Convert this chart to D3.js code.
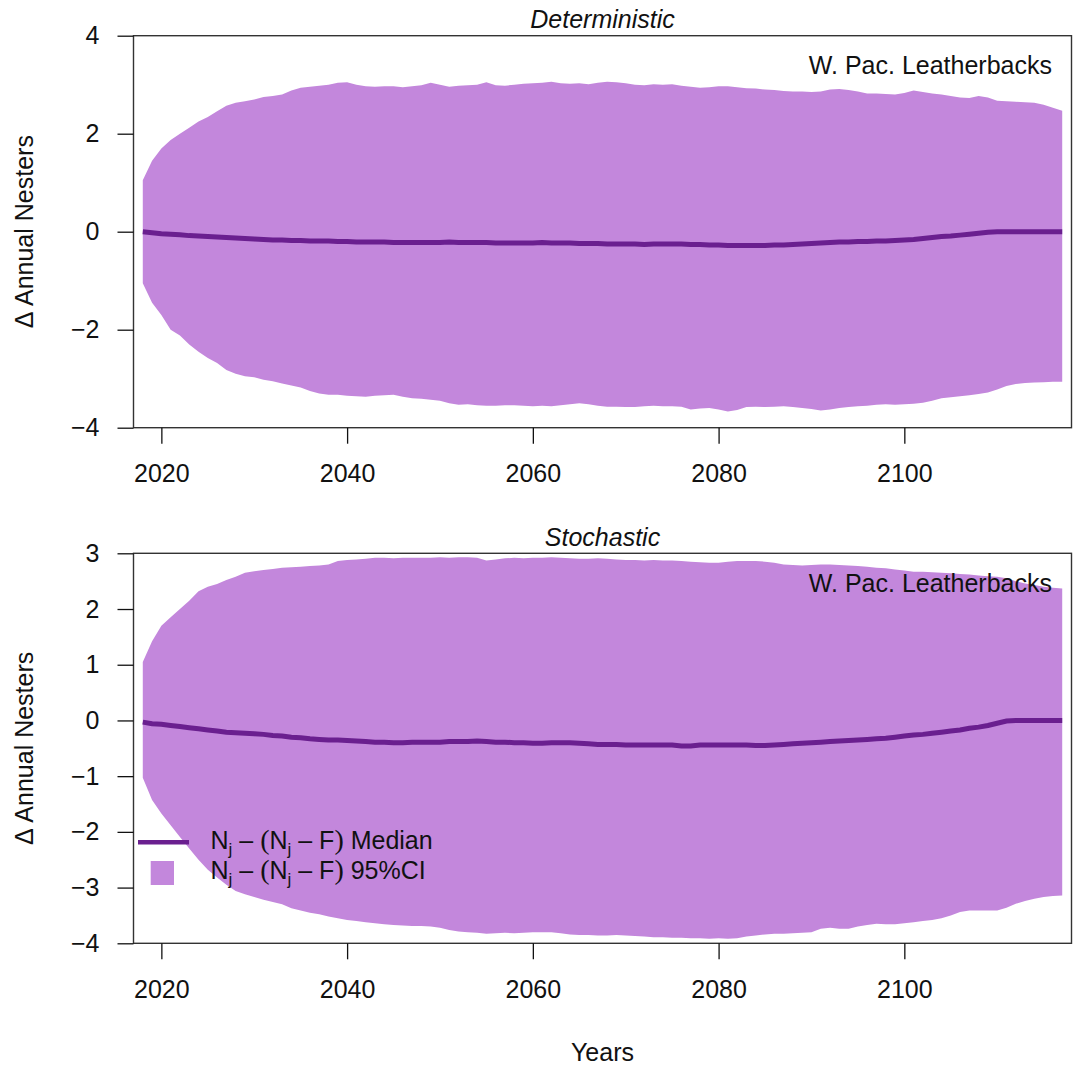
<!DOCTYPE html>
<html>
<head>
<meta charset="utf-8">
<script src="https://cdn.jsdelivr.net/npm/d3@7"></script>
<style>
  html, body { margin: 0; padding: 0; background: #fff; }
  svg { display: block; }
  text { font-family: "Liberation Sans", Arial, sans-serif; fill: #111; }
</style>
</head>
<body>
<div id="chart"></div>
<script>
// ---------------- DATA ----------------
const years = d3.range(2018, 2118); // 2018 .. 2117 (100 years)

const xTicks = [2020, 2040, 2060, 2080, 2100];
const detYTicks = [-4, -2, 0, 2, 4];
const stoYTicks = [-4, -3, -2, -1, 0, 1, 2, 3];

const panelTitles = ["Deterministic", "Stochastic"];
const panelLabel = "W. Pac. Leatherbacks";
const yTitle = "\u0394 Annual Nesters";
const xTitle = "Years";

// Deterministic panel: 95% CI upper / lower and median
const detHi = [
  1.05,1.45,1.70,1.87,2.00,2.12,2.25,2.34,2.46,2.57,
  2.63,2.66,2.70,2.75,2.77,2.80,2.88,2.94,2.96,2.98,
  3.00,3.04,3.05,3.00,2.97,2.96,2.97,2.97,2.95,2.97,
  2.99,3.04,3.00,2.96,2.98,2.99,3.00,3.05,2.99,2.98,
  3.00,3.02,3.03,3.04,3.06,3.03,3.02,3.03,3.01,3.04,
  3.06,3.05,3.03,3.00,2.99,3.01,3.00,3.01,2.98,2.96,
  2.94,2.95,2.97,2.97,2.95,2.93,2.92,2.90,2.89,2.87,
  2.86,2.86,2.85,2.86,2.90,2.91,2.89,2.86,2.82,2.82,
  2.81,2.80,2.83,2.88,2.85,2.82,2.80,2.77,2.74,2.73,
  2.77,2.74,2.67,2.66,2.65,2.64,2.63,2.59,2.53,2.47
];
const detLo = [
  -1.05,-1.45,-1.70,-2.00,-2.12,-2.30,-2.45,-2.58,-2.68,-2.82,
  -2.90,-2.95,-2.97,-3.02,-3.05,-3.10,-3.14,-3.18,-3.25,-3.30,
  -3.33,-3.33,-3.35,-3.36,-3.37,-3.35,-3.34,-3.33,-3.37,-3.40,
  -3.41,-3.43,-3.45,-3.50,-3.53,-3.52,-3.54,-3.55,-3.55,-3.54,
  -3.54,-3.55,-3.56,-3.55,-3.56,-3.54,-3.52,-3.50,-3.52,-3.55,
  -3.57,-3.57,-3.58,-3.58,-3.56,-3.55,-3.56,-3.56,-3.57,-3.63,
  -3.61,-3.60,-3.63,-3.67,-3.64,-3.58,-3.57,-3.58,-3.57,-3.56,
  -3.58,-3.60,-3.62,-3.65,-3.63,-3.60,-3.58,-3.56,-3.55,-3.53,
  -3.52,-3.53,-3.52,-3.51,-3.49,-3.45,-3.40,-3.38,-3.36,-3.34,
  -3.31,-3.28,-3.22,-3.15,-3.11,-3.09,-3.08,-3.07,-3.06,-3.06
];
const detMed = [
  0.00,-0.02,-0.04,-0.05,-0.06,-0.08,-0.09,-0.10,-0.11,-0.12,
  -0.13,-0.14,-0.15,-0.16,-0.17,-0.17,-0.18,-0.18,-0.19,-0.19,
  -0.19,-0.20,-0.20,-0.21,-0.21,-0.21,-0.21,-0.22,-0.22,-0.22,
  -0.22,-0.22,-0.22,-0.21,-0.22,-0.22,-0.22,-0.22,-0.23,-0.23,
  -0.23,-0.23,-0.23,-0.22,-0.23,-0.23,-0.23,-0.24,-0.24,-0.24,
  -0.25,-0.25,-0.25,-0.25,-0.26,-0.25,-0.25,-0.25,-0.25,-0.26,
  -0.26,-0.27,-0.27,-0.28,-0.28,-0.28,-0.28,-0.28,-0.27,-0.27,
  -0.26,-0.25,-0.24,-0.23,-0.22,-0.21,-0.21,-0.20,-0.20,-0.19,
  -0.19,-0.18,-0.17,-0.16,-0.14,-0.12,-0.10,-0.09,-0.07,-0.05,
  -0.03,-0.01,0.00,0.00,0.00,0.00,0.00,0.00,0.00,0.00
];

// Stochastic panel: 95% CI upper / lower and median
const stoHi = [
  1.05,1.42,1.70,1.85,2.00,2.15,2.32,2.40,2.45,2.52,
  2.58,2.65,2.68,2.70,2.72,2.74,2.75,2.76,2.77,2.78,
  2.80,2.86,2.88,2.89,2.90,2.92,2.92,2.91,2.92,2.92,
  2.92,2.92,2.93,2.92,2.93,2.93,2.92,2.87,2.89,2.91,
  2.92,2.91,2.92,2.92,2.93,2.92,2.91,2.90,2.90,2.91,
  2.90,2.89,2.88,2.88,2.87,2.88,2.87,2.87,2.86,2.85,
  2.84,2.83,2.83,2.85,2.86,2.86,2.86,2.85,2.83,2.80,
  2.79,2.78,2.79,2.80,2.80,2.79,2.78,2.77,2.76,2.74,
  2.73,2.71,2.69,2.67,2.67,2.66,2.65,2.64,2.63,2.62,
  2.60,2.59,2.58,2.55,2.50,2.46,2.43,2.40,2.38,2.37
];
const stoLo = [
  -1.03,-1.43,-1.67,-1.88,-2.09,-2.30,-2.50,-2.68,-2.82,-2.95,
  -3.06,-3.12,-3.17,-3.22,-3.26,-3.30,-3.37,-3.41,-3.45,-3.48,
  -3.52,-3.55,-3.58,-3.60,-3.62,-3.64,-3.66,-3.67,-3.68,-3.69,
  -3.69,-3.70,-3.72,-3.76,-3.79,-3.80,-3.81,-3.83,-3.82,-3.81,
  -3.82,-3.81,-3.80,-3.80,-3.80,-3.82,-3.84,-3.85,-3.85,-3.86,
  -3.86,-3.85,-3.86,-3.87,-3.88,-3.89,-3.89,-3.90,-3.90,-3.91,
  -3.91,-3.92,-3.91,-3.92,-3.91,-3.88,-3.86,-3.84,-3.83,-3.83,
  -3.82,-3.81,-3.80,-3.74,-3.72,-3.74,-3.74,-3.70,-3.67,-3.65,
  -3.66,-3.66,-3.64,-3.62,-3.60,-3.58,-3.55,-3.50,-3.44,-3.41,
  -3.41,-3.41,-3.41,-3.36,-3.29,-3.24,-3.20,-3.17,-3.15,-3.14
];
const stoMed = [
  -0.03,-0.06,-0.07,-0.09,-0.11,-0.13,-0.15,-0.17,-0.19,-0.21,
  -0.22,-0.23,-0.24,-0.25,-0.27,-0.28,-0.30,-0.31,-0.33,-0.34,
  -0.35,-0.35,-0.36,-0.37,-0.38,-0.39,-0.39,-0.40,-0.40,-0.39,
  -0.39,-0.39,-0.39,-0.38,-0.38,-0.38,-0.37,-0.38,-0.39,-0.39,
  -0.40,-0.40,-0.41,-0.41,-0.40,-0.40,-0.40,-0.41,-0.42,-0.43,
  -0.43,-0.43,-0.44,-0.44,-0.44,-0.44,-0.44,-0.44,-0.46,-0.46,
  -0.44,-0.44,-0.44,-0.44,-0.44,-0.44,-0.45,-0.45,-0.44,-0.43,
  -0.42,-0.41,-0.40,-0.39,-0.38,-0.37,-0.36,-0.35,-0.34,-0.33,
  -0.32,-0.30,-0.28,-0.26,-0.25,-0.23,-0.21,-0.19,-0.17,-0.14,
  -0.12,-0.09,-0.05,-0.01,0.00,0.00,0.00,0.00,0.00,0.00
];

// ---------------- DRAWING ----------------
const W = 1073, H = 1066;
const bandColor = "#c387dc";
const lineColor = "#6a1f8f";
const FS = 25;

const svg = d3.select("#chart").append("svg")
  .attr("width", W).attr("height", H);

const x = d3.scaleLinear().domain([2017, 2118]).range([133.5, 1071.5]);

const panels = [
  { title: panelTitles[0], hi: detHi, lo: detLo, med: detMed,
    yDomain: [-4, 4], yRange: [427.7, 35.7], yTicks: detYTicks, legend: false },
  { title: panelTitles[1], hi: stoHi, lo: stoLo, med: stoMed,
    yDomain: [-4, 3], yRange: [943.3, 553.3], yTicks: stoYTicks, legend: true }
];

panels.forEach(p => {
  const y = d3.scaleLinear().domain(p.yDomain).range(p.yRange);
  const g = svg.append("g");
  const data = years.map((yr, i) => ({ yr, hi: p.hi[i], lo: p.lo[i], med: p.med[i] }));
  const top = p.yRange[1], bottom = p.yRange[0];
  const left = x.range()[0], right = x.range()[1];

  // CI band
  g.append("path").datum(data)
    .attr("fill", bandColor)
    .attr("d", d3.area().x(d => x(d.yr)).y0(d => y(d.lo)).y1(d => y(d.hi)));

  // median
  g.append("path").datum(data)
    .attr("fill", "none")
    .attr("stroke", lineColor)
    .attr("stroke-width", 5)
    .attr("d", d3.line().x(d => x(d.yr)).y(d => y(d.med)));

  // box
  g.append("rect")
    .attr("x", left).attr("y", top)
    .attr("width", right - left).attr("height", bottom - top)
    .attr("fill", "none").attr("stroke", "#333").attr("stroke-width", 1.4);

  // x axis
  const xa = g.append("g").attr("transform", `translate(0,${bottom})`)
    .call(d3.axisBottom(x).tickValues(xTicks).tickFormat(d3.format("d"))
      .tickSize(16).tickPadding(21));
  xa.select(".domain").remove();
  xa.selectAll("line").attr("stroke", "#111").attr("stroke-width", 1.3);
  xa.selectAll("text").attr("font-size", FS).attr("fill", "#111")
    .style("font-family", '"Liberation Sans", Arial, sans-serif');

  // y axis
  const ya = g.append("g").attr("transform", `translate(${left},0)`)
    .call(d3.axisLeft(y).tickValues(p.yTicks).tickFormat(d => d < 0 ? "\u2212" + Math.abs(d) : d)
      .tickSize(16).tickPadding(18));
  ya.select(".domain").remove();
  ya.selectAll("line").attr("stroke", "#111").attr("stroke-width", 1.3);
  ya.selectAll("text").attr("font-size", FS).attr("fill", "#111")
    .style("font-family", '"Liberation Sans", Arial, sans-serif');

  // panel title
  g.append("text")
    .attr("x", (left + right) / 2).attr("y", top - 7.7)
    .attr("text-anchor", "middle").attr("font-size", FS)
    .attr("font-style", "italic")
    .text(p.title);

  // label in corner
  g.append("text")
    .attr("x", 1052).attr("y", top + 38.5)
    .attr("text-anchor", "end").attr("font-size", FS)
    .text(panelLabel);

  // y title
  g.append("text")
    .attr("transform", `translate(33,${(top + bottom) / 2}) rotate(-90)`)
    .attr("text-anchor", "middle").attr("font-size", FS)
    .text(yTitle);

  if (p.legend) {
    const lg = g.append("g");
    lg.append("line")
      .attr("x1", 138).attr("x2", 189).attr("y1", 842.3).attr("y2", 842.3)
      .attr("stroke", lineColor).attr("stroke-width", 4.5);
    lg.append("rect")
      .attr("x", 150.7).attr("y", 861).attr("width", 23.3).attr("height", 24)
      .attr("fill", bandColor);
    const labels = ["Median", "95%CI"];
    const baselines = [848.5, 879];
    labels.forEach((lab, i) => {
      const t = lg.append("text").attr("x", 210.5).attr("y", baselines[i])
        .attr("font-size", FS);
      t.append("tspan").text("N");
      t.append("tspan").attr("font-size", 17).attr("dy", 6).text("j");
      t.append("tspan").attr("dy", -6).text(" \u2013 ");
      t.append("tspan").style("font-family", '"Liberation Serif", serif')
        .attr("font-size", 28).text("(");
      t.append("tspan").text("N");
      t.append("tspan").attr("font-size", 17).attr("dy", 6).text("j");
      t.append("tspan").attr("dy", -6).text(" \u2013 F");
      t.append("tspan").style("font-family", '"Liberation Serif", serif')
        .attr("font-size", 28).text(")");
      t.append("tspan").text(" " + lab);
    });
  }
});

// x title
svg.append("text")
  .attr("x", 602.5).attr("y", 1061)
  .attr("text-anchor", "middle").attr("font-size", FS)
  .text(xTitle);
</script>
</body>
</html>
